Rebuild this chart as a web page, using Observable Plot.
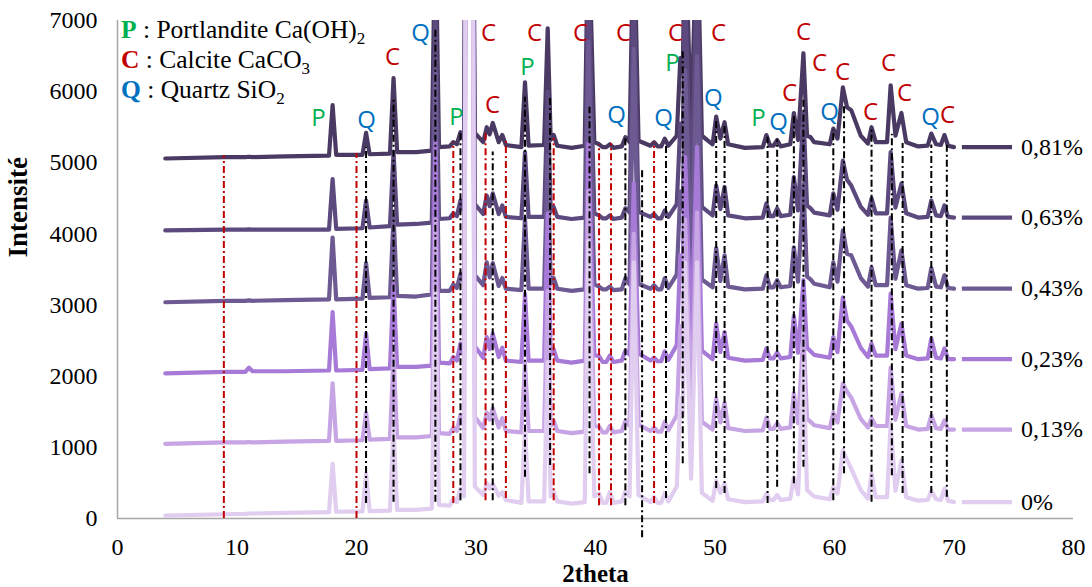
<!DOCTYPE html>
<html><head><meta charset="utf-8">
<script src="https://cdn.jsdelivr.net/npm/d3@7"></script>
<script src="https://cdn.jsdelivr.net/npm/@observablehq/plot@0.6"></script>
<style>
body{margin:0;background:#fff;}
#wrap{position:relative;width:1092px;height:587px;overflow:hidden;}
#phases{position:absolute;left:121px;top:15px;font-family:"Liberation Serif","Times New Roman",serif;font-size:25.5px;line-height:30px;color:#000;white-space:nowrap;}
#phases sub{font-size:17px;vertical-align:-6px;line-height:0;}
</style></head><body>
<div id="wrap">
<div id="phases">
<div><b style="color:#00b050">P</b> : Portlandite Ca(OH)<sub>2</sub></div>
<div><b style="color:#c00000">C</b> : Calcite CaCO<sub>3</sub></div>
<div><b style="color:#0070c0">Q</b> : Quartz SiO<sub>2</sub></div>
</div>
</div>
<script>
// ---- data ----
const xTicks = [0, 10, 20, 30, 40, 50, 60, 70, 80];
const yTicks = [0, 1000, 2000, 3000, 4000, 5000, 6000, 7000];
const seriesNames = ["0,81%", "0,63%", "0,43%", "0,23%", "0,13%", "0%"];
const seriesColors = ["#4a3a63", "#5c4a7e", "#6d5a92", "#a77ad7", "#c7a4e4", "#e0cdef"];

// 2theta of peak tops
const peakX = [11.0, 18.0, 20.8, 23.1, 26.6, 28.1, 28.7, 29.4, 30.9, 31.4,
  32.2, 34.1, 36.0, 36.5, 39.4, 40.3, 41.2, 42.5, 43.2, 44.9,
  45.8, 47.1, 47.5, 48.5, 50.1, 50.8, 54.3, 55.2, 56.6, 57.4,
  58.0, 59.9, 60.7, 61.4, 63.1, 64.7, 65.6, 68.1, 69.2];
// 2theta of background readings (feet of peaks and valleys)
const baseX = [4, 9, 10.7, 11.3, 14, 17.7, 18.3, 20.5, 21.1, 22.8,
  23.4, 25, 26.3, 26.9, 27.8, 28.4, 29.0, 29.9, 30.6, 31.15,
  31.9, 32.5, 33.8, 34.4, 35.7, 36.25, 36.8, 38, 39.1, 39.9,
  40.6, 40.9, 41.5, 42.2, 42.85, 43.6, 44.6, 45.2, 45.5, 46.1,
  46.8, 47.3, 48.0, 48.9, 49.8, 50.45, 51.1, 52.5, 54.0, 54.6,
  54.9, 55.5, 56.3, 56.95, 57.7, 58.3, 59.6, 60.25, 61.05, 62.2,
  62.8, 63.45, 64.4, 65.1, 66.0, 67.0, 67.8, 68.5, 68.9, 69.5, 70];

const peaks081 = [5085, 5810, 5420, 6190, 8500, 5290, 5430, 20000, 5500, 5560,
  5390, 6130, 6890, 5390, 8500, 5260, 5260, 5360, 8500, 5290,
  5340, 6470, 8500, 8500, 5650, 5570, 5390, 5320, 5700, 6540,
  5360, 5480, 6060, 5740, 5500, 6090, 5700, 5410, 5390];
const base081 = [5060, 5080, 5080, 5080, 5090, 5100, 5110, 5110, 5120, 5130,
  5150, 5150, 5170, 5220, 5230, 5260, 5320, 5420, 5290, 5400,
  5290, 5250, 5220, 5240, 5250, 5320, 5240, 5210, 5240, 5290,
  5220, 5220, 5210, 5230, 5290, 5310, 5240, 5230, 5230, 5240,
  5380, 6250, 5420, 5380, 5260, 5340, 5260, 5210, 5220, 5240,
  5240, 5230, 5260, 5320, 5380, 5290, 5260, 5340, 5780, 5380,
  5270, 5290, 5290, 5380, 5290, 5230, 5240, 5260, 5250, 5240, 5220];

const peaks063 = [4065, 4770, 4470, 5150, 7200, 4290, 4470, 20000, 4540, 4570,
  4400, 5150, 6000, 4380, 7600, 4260, 4260, 4360, 7500, 4280,
  4330, 5550, 7400, 7600, 4680, 4660, 4430, 4360, 4800, 5700,
  4360, 4570, 5030, 4680, 4500, 5150, 4710, 4470, 4400];
const base063 = [4050, 4060, 4060, 4060, 4060, 4060, 4070, 4080, 4090, 4110,
  4130, 4140, 4160, 4210, 4220, 4250, 4310, 4420, 4280, 4390,
  4280, 4240, 4220, 4240, 4240, 4310, 4240, 4210, 4230, 4290,
  4220, 4220, 4210, 4230, 4300, 4310, 4240, 4220, 4220, 4240,
  4420, 5350, 4480, 4380, 4260, 4350, 4260, 4220, 4230, 4250,
  4250, 4250, 4270, 4330, 4400, 4300, 4260, 4340, 4760, 4380,
  4270, 4290, 4290, 4370, 4290, 4230, 4240, 4260, 4250, 4240, 4230];

const peaks043 = [3065, 3950, 3590, 4250, 6300, 3290, 3440, 20000, 3600, 3590,
  3380, 4220, 5100, 3380, 6700, 3260, 3260, 3380, 6600, 3280,
  3380, 4600, 6300, 6500, 3800, 3700, 3420, 3350, 3810, 4700,
  3360, 3600, 4050, 3700, 3530, 4230, 3770, 3520, 3420];
const base043 = [3040, 3060, 3060, 3060, 3070, 3080, 3080, 3090, 3100, 3110,
  3130, 3120, 3150, 3200, 3200, 3240, 3310, 3420, 3280, 3390,
  3270, 3230, 3210, 3230, 3230, 3300, 3230, 3200, 3220, 3290,
  3220, 3220, 3210, 3220, 3290, 3300, 3230, 3220, 3220, 3240,
  3430, 4350, 3480, 3360, 3250, 3340, 3260, 3220, 3230, 3250,
  3250, 3250, 3270, 3330, 3400, 3300, 3250, 3330, 3720, 3380,
  3260, 3280, 3280, 3370, 3280, 3230, 3240, 3260, 3250, 3240, 3230];

const peaks023 = [2120, 2900, 2600, 3300, 5300, 2270, 2460, 20000, 2550, 2600,
  2400, 3160, 4290, 2380, 5270, 2280, 2290, 2360, 4710, 2260,
  2350, 3700, 5080, 5220, 2740, 2620, 2390, 2330, 2850, 3350,
  2350, 2550, 3110, 2700, 2460, 3160, 2740, 2530, 2390];
const base023 = [2040, 2060, 2060, 2070, 2070, 2080, 2080, 2090, 2100, 2110,
  2130, 2130, 2150, 2190, 2180, 2220, 2290, 2420, 2260, 2380,
  2270, 2220, 2200, 2220, 2220, 2300, 2220, 2190, 2220, 2300,
  2200, 2200, 2200, 2220, 2300, 2320, 2220, 2210, 2210, 2230,
  2440, 3550, 2540, 2360, 2240, 2340, 2260, 2220, 2230, 2250,
  2250, 2250, 2270, 2330, 2400, 2300, 2260, 2340, 2780, 2400,
  2270, 2290, 2290, 2380, 2290, 2240, 2250, 2260, 2250, 2240, 2240];

const peaks013 = [1075, 1900, 1490, 2300, 4200, 1280, 1460, 20000, 1490, 1550,
  1410, 2200, 3200, 1380, 4600, 1290, 1300, 1370, 4000, 1280,
  1360, 2700, 4200, 4300, 1690, 1630, 1420, 1340, 1760, 2600,
  1360, 1490, 1900, 1700, 1410, 2120, 1760, 1450, 1380];
const base013 = [1050, 1070, 1070, 1070, 1080, 1090, 1090, 1100, 1110, 1120,
  1140, 1140, 1160, 1200, 1190, 1230, 1300, 1430, 1270, 1390,
  1280, 1230, 1210, 1230, 1230, 1300, 1230, 1200, 1220, 1300,
  1210, 1210, 1210, 1230, 1300, 1320, 1230, 1220, 1220, 1240,
  1450, 2450, 1550, 1360, 1250, 1350, 1270, 1230, 1240, 1260,
  1260, 1260, 1280, 1340, 1400, 1310, 1270, 1350, 1780, 1400,
  1280, 1300, 1300, 1390, 1300, 1250, 1260, 1270, 1260, 1250, 1250];

const peaks000 = [70, 770, 630, 1300, 3200, 280, 420, 25000, 500, 490,
  370, 1300, 2200, 380, 3900, 350, 370, 380, 3600, 300,
  360, 1700, 3600, 3600, 530, 490, 350, 330, 580, 2200,
  350, 440, 960, 700, 630, 1340, 820, 390, 420];
const base000 = [40, 60, 65, 70, 80, 90, 95, 100, 105, 110,
  120, 120, 140, 190, 180, 230, 310, 450, 330, 420,
  320, 260, 220, 240, 240, 310, 240, 210, 230, 310,
  220, 220, 220, 240, 310, 330, 230, 220, 220, 240,
  450, 1450, 560, 360, 250, 360, 270, 230, 240, 260,
  260, 260, 280, 340, 400, 310, 270, 350, 820, 400,
  280, 300, 300, 390, 300, 250, 260, 270, 260, 250, 230];

// reference lines (dash-dot): red = calcite, black = others
const redLineX = [8.9, 20.0, 28.1, 30.8, 32.5, 36.5, 40.3, 41.3, 44.9];
const redLineLow = [0, 0, 210, 250, 280, 250, 180, 180, 210];
const redLineHigh = [5100, 5130, 5280, 5430, 5320, 5340, 5250, 5270, 5280];
const blackLineX = [20.8, 23.1, 26.6, 28.7, 31.4, 34.1, 36.2, 39.5, 42.5, 43.9,
  45.9, 47.3, 50.1, 50.8, 54.4, 55.2, 56.6, 57.4, 59.9, 60.8,
  63.1, 64.8, 65.7, 68.1, 69.4];
const blackLineLow = [210, 230, 230, 250, 250, 580, 745, 630, 180, -270,
  280, 770, 420, 350, 210, 440, 490, 720, 250, 630,
  230, 600, 350, 350, 300];
const blackLineHigh = [5220, 5900, 6900, 5430, 5150, 5920, 5920, 5780, 5360, 4890,
  5250, 6600, 5600, 5550, 5360, 5320, 5690, 5920, 5460, 5820,
  5500, 5400, 5270, 5250, 5250];

// phase letters above the peaks
const phaseLabelText = ["P", "Q", "C", "Q", "P", "C", "C", "P", "C", "C",
  "Q", "C", "Q", "C", "P", "C", "Q", "P", "Q", "C",
  "C", "C", "C", "Q", "C", "C", "C", "Q", "C"];
const phaseLabelX = [16.82, 20.84, 23.01, 25.36, 28.37, 31.05, 31.38, 34.31, 34.90, 38.74,
  41.76, 42.34, 45.69, 46.69, 46.44, 50.29, 49.87, 53.64, 55.31, 56.23,
  57.41, 58.74, 60.67, 59.58, 63.01, 64.52, 65.86, 68.03, 69.46];
const phaseLabelY = [5623, 5595, 6480, 6818, 5637, 6818, 5806, 6340, 6818, 6818,
  5665, 6818, 5623, 6818, 6400, 6818, 5904, 5623, 5567, 5974,
  6832, 6396, 6269, 5707, 5707, 6396, 5974, 5637, 5665];
const phaseColors = {P: "#00b050", C: "#c00000", Q: "#0070c0"};

// ---- assemble ----
const seriesList = [
  {name: seriesNames[0], peaks: peaks081, base: base081},
  {name: seriesNames[1], peaks: peaks063, base: base063},
  {name: seriesNames[2], peaks: peaks043, base: base043},
  {name: seriesNames[3], peaks: peaks023, base: base023},
  {name: seriesNames[4], peaks: peaks013, base: base013},
  {name: seriesNames[5], peaks: peaks000, base: base000}
];
const rows = seriesList.flatMap(s =>
  baseX.map((x, i) => ({series: s.name, x, y: s.base[i]}))
    .concat(peakX.map((x, i) => ({series: s.name, x, y: s.peaks[i]})))
    .sort((a, b) => a.x - b.x));
const legendRows = seriesList.map(s => ({series: s.name, y: s.base[s.base.length - 1]}));
const redRules = redLineX.map((x, i) => ({x, y1: redLineLow[i], y2: redLineHigh[i]}));
const blackRules = blackLineX.map((x, i) => ({x, y1: blackLineLow[i], y2: blackLineHigh[i]}));
const labels = phaseLabelText.map((t, i) => ({t, x: phaseLabelX[i], y: phaseLabelY[i]}));

const serif = "'Liberation Serif','Times New Roman',serif";
const sans = "'Open Sans','Liberation Sans',sans-serif";

const chart = Plot.plot({
  width: 1092,
  height: 587,
  marginLeft: 117,
  marginRight: 19,
  marginTop: 20,
  marginBottom: 69,
  style: {fontFamily: serif, fontSize: "24px", background: "white", color: "black", overflow: "visible"},
  x: {domain: [0, 80], ticks: xTicks, tickSize: 0, tickPadding: 19, label: null, tickFormat: d => String(d)},
  y: {domain: [0, 7000], ticks: yTicks, tickSize: 0, tickPadding: 20, label: null, tickFormat: d => String(d)},
  color: {domain: seriesNames, range: seriesColors},
  marks: [
    Plot.ruleX([0], {y1: 0, y2: 7000, stroke: "#a6a6a6", strokeWidth: 1.5}),
    Plot.ruleY([0], {x1: 0, x2: 80, stroke: "#a6a6a6", strokeWidth: 1.5}),
    Plot.line(rows, {x: "x", y: "y", z: "series", stroke: "series", strokeWidth: 4.2,
      strokeLinejoin: "round", strokeLinecap: "round", clip: true}),
    Plot.ruleX(redRules, {x: "x", y1: "y1", y2: "y2", stroke: "#c00000", strokeWidth: 2, strokeDasharray: "7,3,2,3"}),
    Plot.ruleX(blackRules, {x: "x", y1: "y1", y2: "y2", stroke: "#000", strokeWidth: 2, strokeDasharray: "7,3,2,3"}),
    ...["P", "C", "Q"].map(k => Plot.text(labels.filter(d => d.t === k),
      {x: "x", y: "y", text: "t", fill: phaseColors[k], fontFamily: sans, fontSize: 24})),
    Plot.ruleY(legendRows, {y: "y", x1: 70.7, x2: 74.9, stroke: "series", strokeWidth: 4.2}),
    Plot.text(legendRows, {y: "y", x: 75.6, text: "series", textAnchor: "start", fontFamily: serif, fontSize: 24}),
    Plot.text(["Intensité"], {frameAnchor: "left", text: d => d, rotate: -90, dx: -99, dy: -12,
      fontWeight: "bold", fontSize: 27, fontFamily: serif}),
    Plot.text(["2theta"], {frameAnchor: "bottom", text: d => d, dy: 63, fontWeight: "bold", fontSize: 25, fontFamily: serif})
  ]
});
document.getElementById("wrap").prepend(chart);
</script>
</body></html>
